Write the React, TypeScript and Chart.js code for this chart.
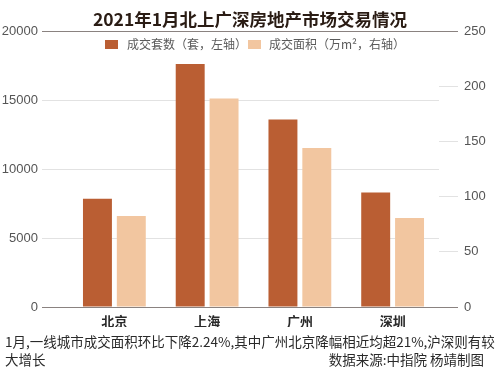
import React, { useEffect, useRef } from "react";
import { Chart, registerables } from "chart.js";

Chart.register(...registerables);

const cities = ["北京", "上海", "广州", "深圳"];
const units = [7850, 17600, 13580, 8290];
const areas = [82.4, 188.8, 144, 80.6];
const leftTicks = [0, 5000, 10000, 15000, 20000];
const rightTicks = [0, 50, 100, 150, 200, 250];
const seriesNames = ["成交套数（套，左轴）", "成交面积（万m²，右轴）"];
const titleText = "2021年1月北上广深房地产市场交易情况";
const noteLine1 = "1月,一线城市成交面积环比下降2.24%,其中广州北京降幅相近均超21%,沪深则有较";
const noteLine2a = "大增长";
const noteLine2b = "数据来源:中指院 杨靖制图";

const DARK = "#BA5E33";
const LIGHT = "#F2C6A0";
const colors = [DARK, LIGHT];
const FONT = "'Noto Sans CJK SC', 'Noto Sans', sans-serif";
const NUMFONT = "'Liberation Sans', Arial, sans-serif";

export default function App() {
  const ref = useRef<HTMLCanvasElement | null>(null);

  useEffect(() => {
    if (!ref.current) return;
    const gridColor = (ctx: any) => {
      const v = ctx.tick ? ctx.tick.value : 0;
      return v === 0 || v === 20000 || v === 250 ? "#8a8280" : "#e2e2e2";
    };
    const chart = new Chart(ref.current, {
      type: "bar",
      data: {
        labels: cities,
        datasets: [
          {
            label: seriesNames[0],
            data: units,
            backgroundColor: DARK,
            yAxisID: "y",
            categoryPercentage: 0.73,
            barPercentage: 0.855,
          },
          {
            label: seriesNames[1],
            data: areas,
            backgroundColor: LIGHT,
            yAxisID: "y1",
            categoryPercentage: 0.73,
            barPercentage: 0.855,
          },
        ],
      },
      options: {
        responsive: false,
        animation: false,
        devicePixelRatio: 1,
        layout: { padding: { left: 0, right: 0, top: 0, bottom: 47 } },
        plugins: {
          title: {
            display: true,
            text: titleText,
            color: "#2a1c14",
            font: { family: FONT, size: 17.5, weight: "bold", lineHeight: 1.2 },
            padding: { top: 8.5, bottom: 1.5 },
          },
          legend: { display: false },
          tooltip: { enabled: false },
        },
        scales: {
          x: {
            grid: { display: false, drawTicks: false },
            border: { display: false },
            ticks: {
              color: "#2a2a2a",
              padding: 6,
              font: { family: FONT, size: 13, weight: "bold" },
            },
            afterFit: (s: any) => {
              s.height = 20;
            },
          },
          y: {
            position: "left",
            min: 0,
            max: 20000,
            afterBuildTicks: (s: any) => {
              s.ticks = leftTicks.map((v) => ({ value: v }));
            },
            grid: {
              color: gridColor,
              tickColor: gridColor,
              tickLength: 26,
              lineWidth: 1,
            },
            border: { display: false },
            ticks: {
              color: "#555",
              padding: 4,
              font: { family: NUMFONT, size: 13 },
              callback: (v: any) => String(v),
            },
            afterFit: (s: any) => {
              s.width = 68;
            },
          },
          y1: {
            position: "right",
            min: 0,
            max: 250,
            afterBuildTicks: (s: any) => {
              s.ticks = rightTicks.map((v) => ({ value: v }));
            },
            grid: {
              drawOnChartArea: false,
              color: gridColor,
              tickColor: gridColor,
              tickLength: 19,
            },
            border: { display: false },
            ticks: {
              color: "#555",
              padding: 6,
              font: { family: NUMFONT, size: 13 },
              callback: (v: any) => String(v),
            },
            afterFit: (s: any) => {
              s.width = 61;
            },
          },
        },
      },
    });
    return () => chart.destroy();
  }, []);

  const legendPos = [
    { box: 105, text: 127 },
    { box: 248, text: 269 },
  ];

  return (
    <div
      style={{
        position: "fixed",
        left: 0,
        top: 0,
        width: 500,
        height: 374,
        background: "#fff",
        fontFamily: FONT,
      }}
    >
      <canvas ref={ref} width={500} height={374} style={{ display: "block" }} />
      {seriesNames.map((name, i) => (
        <React.Fragment key={name}>
          <div
            style={{
              position: "absolute",
              left: legendPos[i].box,
              top: 40,
              width: 13,
              height: 9,
              background: colors[i],
            }}
          />
          <div
            style={{
              position: "absolute",
              left: legendPos[i].text,
              top: 36,
              fontSize: 12,
              lineHeight: "16px",
              color: "#5a5a5a",
              whiteSpace: "nowrap",
            }}
          >
            {name}
          </div>
        </React.Fragment>
      ))}
      <div
        style={{
          position: "absolute",
          left: 5,
          top: 332,
          fontSize: 13.5,
          lineHeight: "18px",
          color: "#2a2a2a",
          whiteSpace: "nowrap",
        }}
      >
        {noteLine1}
      </div>
      <div
        style={{
          position: "absolute",
          left: 5,
          top: 350,
          fontSize: 13.5,
          lineHeight: "18px",
          color: "#2a2a2a",
        }}
      >
        {noteLine2a}
      </div>
      <div
        style={{
          position: "absolute",
          right: 16,
          top: 350,
          fontSize: 13.5,
          lineHeight: "18px",
          color: "#2a2a2a",
          whiteSpace: "pre",
        }}
      >
        {noteLine2b}
      </div>
    </div>
  );
}
